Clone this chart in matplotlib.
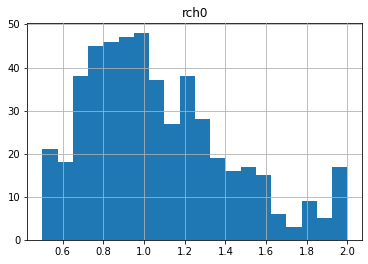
import numpy as np
import matplotlib
matplotlib.use("Agg")
from matplotlib import pyplot as plt

# histogram of rch0, 20 bins between 0.5 and 2.0
bin_lo = 0.5
bin_hi = 2.0
counts = [21, 18, 38, 45, 46, 47, 48, 37, 27, 38,
          28, 19, 16, 17, 15, 6, 3, 9, 5, 17]
title = "rch0"

edges = np.linspace(bin_lo, bin_hi, len(counts) + 1)
centers = (edges[:-1] + edges[1:]) / 2

fig, ax = plt.subplots(figsize=(368 / 72, 264 / 72), dpi=72)
fig.subplots_adjust(left=0.074, right=0.985, top=0.914, bottom=0.091)
ax.hist(centers, bins=edges, weights=counts, color="#1f77b4")
ax.grid(True, color="#b0b0b0")
ax.set_axisbelow(False)
ax.set_title(title, fontsize=12)
ax.tick_params(labelsize=10)
fig.savefig("out.png", dpi=72)
